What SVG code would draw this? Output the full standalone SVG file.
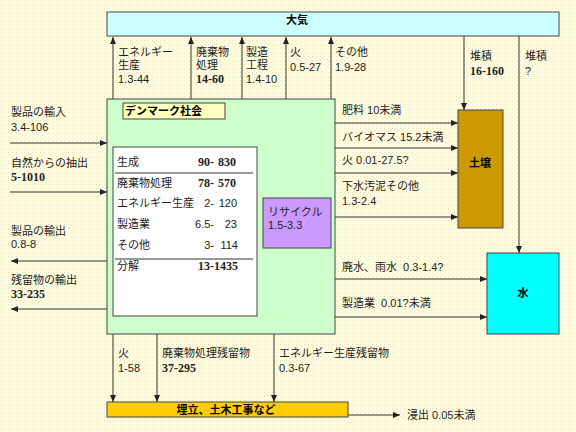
<svg xmlns="http://www.w3.org/2000/svg" width="576" height="432" viewBox="0 0 576 432">
<defs>
<pattern id="bg" width="4" height="4" patternUnits="userSpaceOnUse">
<rect width="4" height="4" fill="#FFFFDD"/>
<rect x="0" y="0" width="1" height="1" fill="#EDDCCC"/>
<rect x="2" y="2" width="1" height="1" fill="#F3E8D2"/>
</pattern>
<marker id="ah" markerWidth="7" markerHeight="6" refX="7" refY="3" orient="auto" markerUnits="userSpaceOnUse">
<path d="M0,0 L7,3 L0,6 z" fill="#222"/>
</marker>
<style>
text{font-family:"Liberation Sans","Noto Sans CJK JP",sans-serif;font-size:11px;fill:#222}
.b{font-family:"Liberation Serif","Noto Sans CJK JP",serif;font-weight:bold;font-size:12px}
.h{font-weight:bold;fill:#000}
.box{stroke:#444;stroke-width:1}
.c{stroke:#333;stroke-width:1;fill:none}
.a{marker-end:url(#ah)}
.e{text-anchor:end}
</style>
</defs>
<rect width="576" height="432" fill="url(#bg)"/>

<g id="connectors">
<line class="c a" x1="113" y1="99" x2="113" y2="37"/>
<line class="c a" x1="191" y1="99" x2="191" y2="37"/>
<line class="c a" x1="242" y1="99" x2="242" y2="37"/>
<line class="c a" x1="286" y1="99" x2="286" y2="37"/>
<line class="c a" x1="331" y1="99" x2="331" y2="37"/>
<line class="c a" x1="464" y1="36" x2="464" y2="110"/>
<line class="c a" x1="519" y1="36" x2="519" y2="253"/>
<line class="c a" x1="10" y1="143" x2="107" y2="143"/>
<line class="c a" x1="10" y1="192" x2="107" y2="192"/>
<line class="c a" x1="107" y1="261" x2="11" y2="261"/>
<line class="c a" x1="107" y1="309" x2="11" y2="309"/>
<line class="c a" x1="335" y1="123" x2="458" y2="123"/>
<line class="c a" x1="335" y1="148" x2="458" y2="148"/>
<line class="c a" x1="335" y1="173" x2="458" y2="173"/>
<line class="c a" x1="335" y1="217" x2="458" y2="217"/>
<line class="c a" x1="335" y1="279" x2="487" y2="279"/>
<line class="c a" x1="335" y1="317" x2="487" y2="317"/>
<polyline class="c a" points="298,198 298,173 257,173"/>
<polyline class="c a" points="257,291 298,291 298,248"/>
<line class="c a" x1="113" y1="334" x2="113" y2="402"/>
<line class="c a" x1="157" y1="334" x2="157" y2="402"/>
<line class="c a" x1="274" y1="334" x2="274" y2="402"/>
<line class="c a" x1="348" y1="415" x2="400" y2="415"/>
</g>

<g id="atmosphere">
<rect class="box" x="107" y="12" width="452" height="24" fill="#CCFFFF"/>
<text class="h" x="286" y="24">大気</text>
</g>

<g id="denmark">
<rect class="box" x="107" y="99" width="228" height="235" fill="#CCFFCC"/>
<rect class="box" x="123" y="103" width="102" height="16" fill="#FFFFC0"/>
<text class="h" x="125" y="115">デンマーク社会</text>
</g>

<g id="stock">
<rect class="box" x="113" y="147" width="144" height="169" fill="#FFFFFF"/>
<line x1="115" y1="173" x2="253" y2="173" stroke="#333"/>
<line x1="115" y1="259" x2="253" y2="259" stroke="#333"/>
<text x="117" y="166">生成</text>
<text class="b e" x="214" y="166">90-</text><text class="b e" x="236" y="166">830</text>
<text x="117" y="187">廃棄物処理</text>
<text class="b e" x="214" y="187">78-</text><text class="b e" x="236" y="187">570</text>
<text x="117" y="207">エネルギー生産</text>
<text class="e" x="214" y="207">2-</text><text class="e" x="237" y="207">120</text>
<text x="117" y="228">製造業</text>
<text class="e" x="214" y="228">6.5-</text><text class="e" x="237" y="228">23</text>
<text x="117" y="249">その他</text>
<text class="e" x="214" y="249">3-</text><text class="e" x="238" y="249">114</text>
<text x="117" y="270">分解</text>
<text class="b e" x="238" y="270">13-1435</text>
</g>

<g id="recycle">
<rect class="box" x="263" y="198" width="68" height="50" fill="#CC99FF"/>
<text x="268" y="216">リサイクル</text>
<text x="268" y="229">1.5-3.3</text>
</g>

<g id="soil">
<rect class="box" x="458" y="110" width="45" height="118" fill="#CC9900"/>
<text class="h" x="480" y="167" text-anchor="middle">土壌</text>
</g>

<g id="water">
<rect class="box" x="487" y="253" width="72" height="81" fill="#00FFFF"/>
<text class="h" x="523" y="297" text-anchor="middle">水</text>
</g>

<g id="landfill">
<rect class="box" x="107" y="402" width="241" height="15" fill="#FFCC00"/>
<text class="h" x="226" y="414" text-anchor="middle">埋立、土木工事など</text>
</g>

<g id="labels">
<text x="118" y="56">エネルギー</text><text x="118" y="69">生産</text><text x="118" y="83">1.3-44</text>
<text x="196" y="56">廃棄物</text><text x="196" y="69">処理</text><text class="b" x="196" y="83">14-60</text>
<text x="246" y="56">製造</text><text x="246" y="69">工程</text><text x="246" y="83">1.4-10</text>
<text x="290" y="56" fill="#666">火</text><text x="290" y="71">0.5-27</text>
<text x="335" y="56">その他</text><text x="335" y="71">1.9-28</text>
<text x="470" y="60">堆積</text><text class="b" x="470" y="75">16-160</text>
<text x="525" y="60">堆積</text><text x="525" y="75">?</text>
<text x="11" y="116">製品の輸入</text><text x="11" y="131">3.4-106</text>
<text x="11" y="167">自然からの抽出</text><text class="b" x="11" y="181">5-1010</text>
<text x="11" y="235">製品の輸出</text><text x="11" y="248">0.8-8</text>
<text x="11" y="284">残留物の輸出</text><text class="b" x="11" y="298">33-235</text>
<text x="342" y="114">肥料 10未満</text>
<text x="342" y="141">バイオマス 15.2未満</text>
<text x="342" y="164">火 0.01-27.5?</text>
<text x="342" y="190">下水汚泥その他</text><text x="342" y="205">1.3-2.4</text>
<text x="342" y="271" xml:space="preserve">廃水、雨水  0.3-1.4?</text>
<text x="342" y="307" xml:space="preserve">製造業  0.01?未満</text>
<text x="118" y="357">火</text><text x="118" y="372">1-58</text>
<text x="162" y="357">廃棄物処理残留物</text><text class="b" x="162" y="372">37-295</text>
<text x="279" y="357">エネルギー生産残留物</text><text x="279" y="372">0.3-67</text>
<text x="407" y="419">浸出 0.05未満</text>
</g>
</svg>
